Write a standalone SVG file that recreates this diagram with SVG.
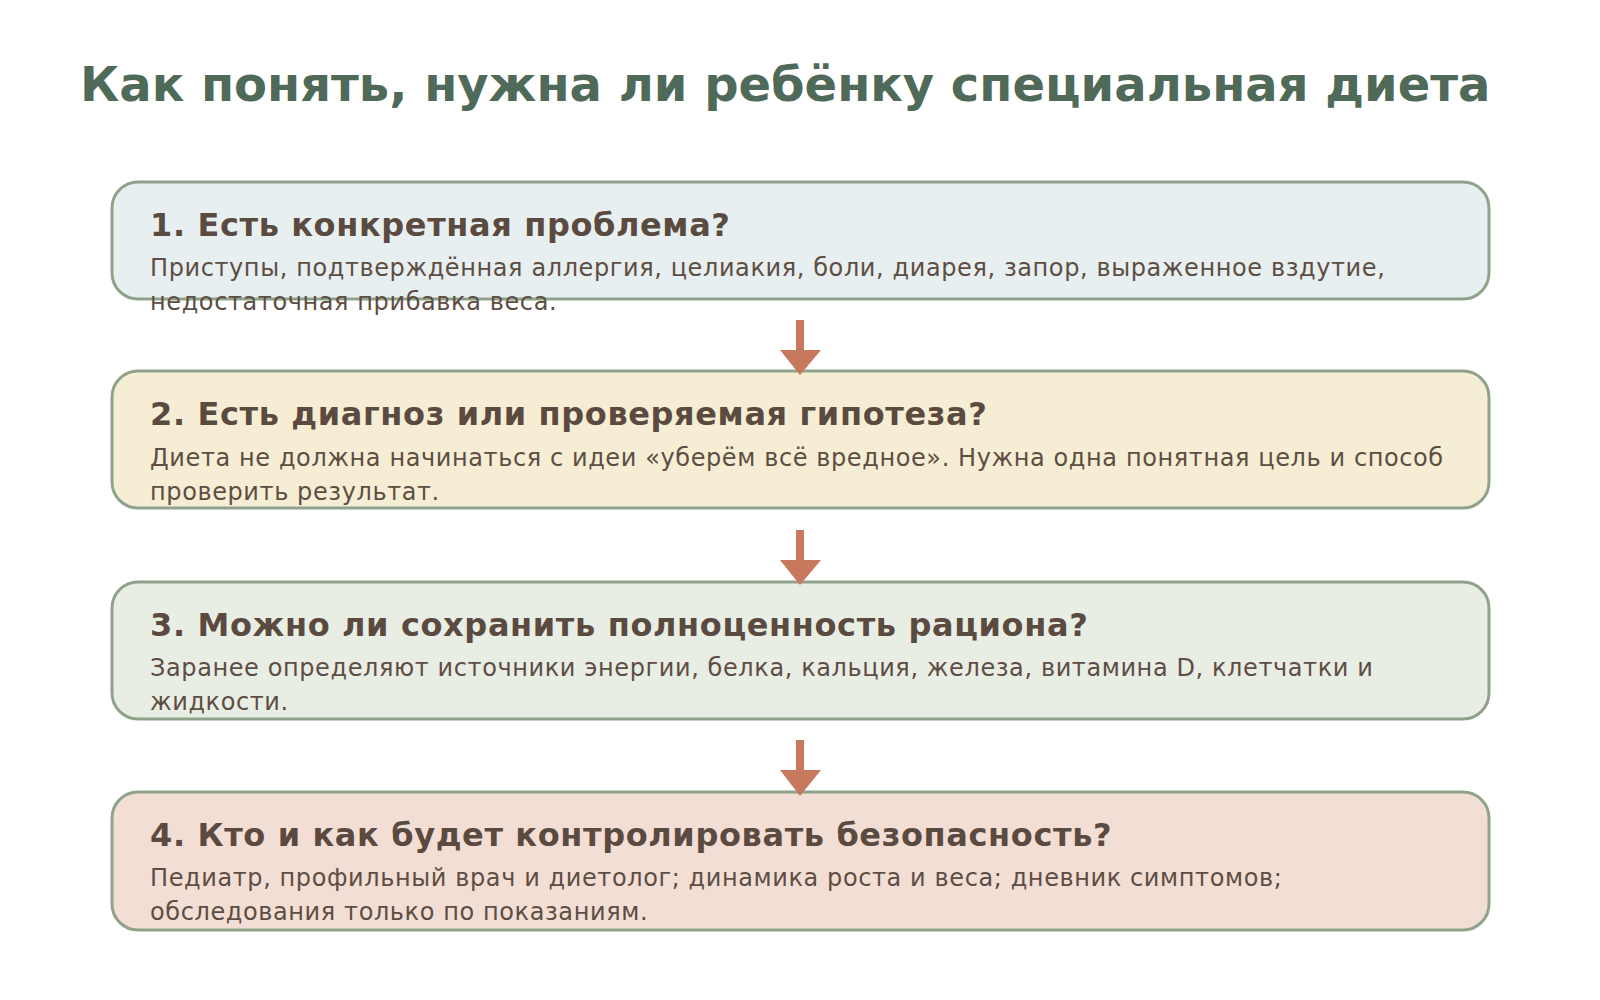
<svg xmlns="http://www.w3.org/2000/svg" width="1600" height="1000" viewBox="0 0 1600 1000">
  <style>
    .title { font-family: "DejaVu Sans", Verdana, sans-serif; font-weight: bold; font-size: 48px; fill: #4f6a58; }
    .box { stroke: #8fa38b; stroke-width: 3; }
    .head { font-family: "DejaVu Sans", Verdana, sans-serif; font-weight: bold; font-size: 32px; letter-spacing: 0.62px; fill: #5b4a3f; }
    .body { font-family: "DejaVu Sans", Verdana, sans-serif; font-size: 24px; letter-spacing: 0.6px; fill: #5d4d43; }
    .arrow { fill: #c8785c; }
    .shaft { stroke: #c8785c; stroke-width: 8; }
  </style>
  <rect width="1600" height="1000" fill="#ffffff"/>
  <text class="title" x="80" y="101">Как понять, нужна ли ребёнку специальная диета</text>

  <g id="node1">
    <rect class="box" x="112" y="182" width="1377" height="117" rx="26" fill="#e7eff0"/>
    <text class="head" x="150" y="236">1. Есть конкретная проблема?</text>
    <text class="body" x="150" y="276">Приступы, подтверждённая аллергия, целиакия, боли, диарея, запор, выраженное вздутие,</text>
    <text class="body" x="150" y="310">недостаточная прибавка веса.</text>
  </g>
  <g id="node2">
    <rect class="box" x="112" y="371" width="1377" height="137" rx="26" fill="#f6eed4"/>
    <text class="head" x="150" y="425">2. Есть диагноз или проверяемая гипотеза?</text>
    <text class="body" x="150" y="466">Диета не должна начинаться с идеи «уберём всё вредное». Нужна одна понятная цель и способ</text>
    <text class="body" x="150" y="500">проверить результат.</text>
  </g>
  <g id="node3">
    <rect class="box" x="112" y="582" width="1377" height="137" rx="26" fill="#e9eee4"/>
    <text class="head" x="150" y="636">3. Можно ли сохранить полноценность рациона?</text>
    <text class="body" x="150" y="676">Заранее определяют источники энергии, белка, кальция, железа, витамина D, клетчатки и</text>
    <text class="body" x="150" y="710">жидкости.</text>
  </g>
  <g id="node4">
    <rect class="box" x="112" y="792" width="1377" height="138" rx="26" fill="#f2ded4"/>
    <text class="head" x="150" y="846">4. Кто и как будет контролировать безопасность?</text>
    <text class="body" x="150" y="886">Педиатр, профильный врач и диетолог; динамика роста и веса; дневник симптомов;</text>
    <text class="body" x="150" y="920">обследования только по показаниям.</text>
  </g>

  <g id="connectors">
    <line class="shaft" x1="800" y1="320" x2="800" y2="352"/>
    <polygon class="arrow" points="780,350 821,350 800,375"/>
    <line class="shaft" x1="800" y1="530" x2="800" y2="562"/>
    <polygon class="arrow" points="780,560 821,560 800,585"/>
    <line class="shaft" x1="800" y1="740" x2="800" y2="772"/>
    <polygon class="arrow" points="780,770 821,770 800,796"/>
  </g>
</svg>
